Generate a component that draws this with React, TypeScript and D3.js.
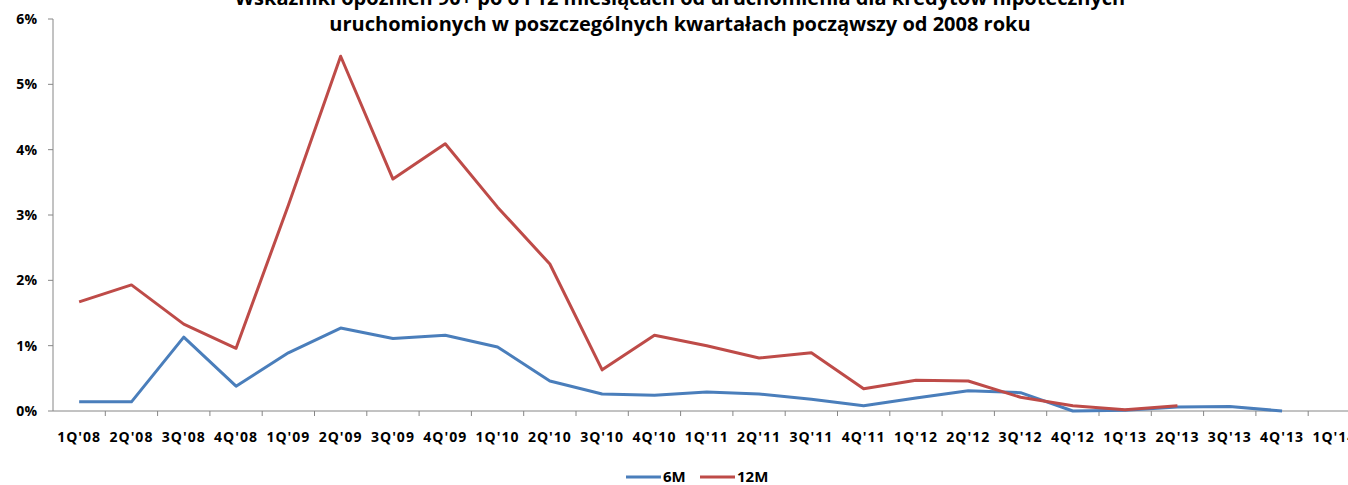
import React from "react";
import * as d3 from "d3";

const quarters = [
  "1Q'08", "2Q'08", "3Q'08", "4Q'08", "1Q'09", "2Q'09", "3Q'09", "4Q'09",
  "1Q'10", "2Q'10", "3Q'10", "4Q'10", "1Q'11", "2Q'11", "3Q'11", "4Q'11",
  "1Q'12", "2Q'12", "3Q'12", "4Q'12", "1Q'13", "2Q'13", "3Q'13", "4Q'13", "1Q'14",
];

// values in %
const sixM = [
  0.14, 0.14, 1.13, 0.38, 0.89, 1.27, 1.11, 1.16, 0.98, 0.46, 0.26, 0.24,
  0.29, 0.26, 0.18, 0.08, 0.2, 0.31, 0.28, 0.0, 0.01, 0.06, 0.07, 0.0, null,
];
const twelveM = [
  1.67, 1.93, 1.33, 0.96, 3.15, 5.43, 3.55, 4.09, 3.12, 2.25, 0.63, 1.16,
  1.0, 0.81, 0.89, 0.34, 0.47, 0.46, 0.21, 0.08, 0.02, 0.08, null, null, null,
];
const yTicks = [0, 1, 2, 3, 4, 5, 6];

const titleLines = [
  "Wskaźniki opóźnień 90+ po 6 i 12 miesiącach od uruchomienia dla kredytów hipotecznych",
  "uruchomionych w poszczególnych kwartałach począwszy od 2008 roku",
];

const series = [
  { name: "6M", values: sixM, color: "#4a7ebb" },
  { name: "12M", values: twelveM, color: "#be4b48" },
];

const W = 1348;
const H = 485;
const left = 53;
const bottom = 411;
const top = 19;
const band = 52.3;
const font = "'Open Sans', sans-serif";
const axisColor = "#868686";

export default function App() {
  const x = d3
    .scaleBand()
    .domain(quarters)
    .range([left, left + band * quarters.length]);
  const y = d3.scaleLinear().domain([0, 6]).range([bottom, top]);

  const line = d3
    .line<number | null>()
    .defined((d) => d !== null)
    .x((_, i) => x(quarters[i])! + x.bandwidth() / 2)
    .y((d) => y(d as number));

  return (
    <div style={{ position: "fixed", left: 0, top: 0 }}>
      <svg width={W} height={H} style={{ display: "block", background: "#fff" }}>
        {titleLines.map((t, i) => (
          <text
            key={i}
            x={680}
            y={5 + i * 26}
            textAnchor="middle"
            fontFamily={font}
            fontWeight="bold"
            fontSize={20}
            fill="#000"
          >
            {t}
          </text>
        ))}

        {/* y axis */}
        <line x1={left} x2={left} y1={top} y2={bottom} stroke={axisColor} />
        {yTicks.map((t) => (
          <g key={t}>
            <line x1={left - 5} x2={left} y1={y(t)} y2={y(t)} stroke={axisColor} />
            <text
              x={37}
              y={y(t)}
              dy="0.35em"
              textAnchor="end"
              fontFamily={font}
              fontWeight="bold"
              fontSize={14}
            >
              {t}%
            </text>
          </g>
        ))}

        {/* x axis */}
        <line x1={left} x2={W} y1={bottom} y2={bottom} stroke={axisColor} />
        {quarters.map((q) => (
          <g key={q}>
            <line
              x1={x(q)! + x.bandwidth()}
              x2={x(q)! + x.bandwidth()}
              y1={bottom}
              y2={bottom + 5}
              stroke={axisColor}
            />
            <text
              x={x(q)! + x.bandwidth() / 2}
              y={442}
              textAnchor="middle"
              fontFamily={font}
              fontWeight="bold"
              fontSize={14}
              letterSpacing={1}
            >
              {q}
            </text>
          </g>
        ))}

        {series.map((s) => (
          <path
            key={s.name}
            d={line(s.values) ?? ""}
            fill="none"
            stroke={s.color}
            strokeWidth={3}
            strokeLinejoin="round"
          />
        ))}

        {/* legend */}
        {series.map((s, i) => {
          const lx = 626 + i * 74;
          return (
            <g key={s.name}>
              <line x1={lx} x2={lx + 35} y1={477} y2={477} stroke={s.color} strokeWidth={3} />
              <text
                x={lx + 37}
                y={477}
                dy="0.35em"
                fontFamily={font}
                fontWeight="bold"
                fontSize={15}
              >
                {s.name}
              </text>
            </g>
          );
        })}
      </svg>
    </div>
  );
}
